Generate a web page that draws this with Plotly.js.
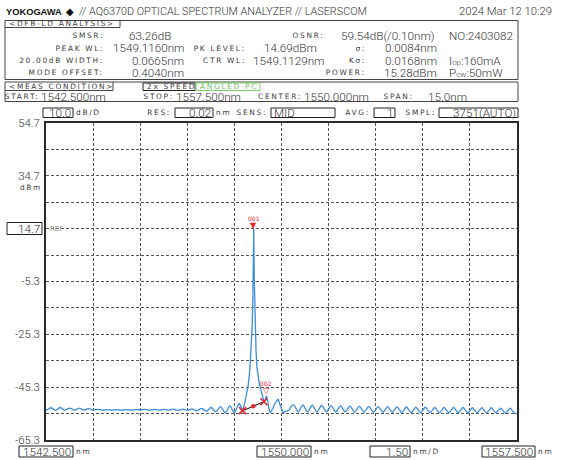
<!DOCTYPE html>
<html><head><meta charset="utf-8">
<script src="https://cdn.plot.ly/plotly-3.0.1.min.js"></script>
<style>html,body{margin:0;padding:0;background:#fff}#chart{width:565px;height:460px}</style>
</head><body><div id="chart"></div>
<script>
// ---------------- data ----------------
const wlRange = [1542.5, 1557.5];
const dbmRange = [-65.3, 54.7];
const noiseStep = 0.075;
const noiseLeftStart = 1542.5;
const noiseLeftDbm = [-54.0,-53.6,-53.1,-53.5,-54.1,-53.6,-53.0,-53.5,-54.0,-53.6,-53.2,-53.5,-54.0,-53.7,-53.2,-53.5,-54.0,-53.7,-53.4,-53.6,-54.0,-53.8,
 -53.7,-53.8,-54.0,-53.9,-53.8,-53.9,-54.0,-53.9,-53.8,-53.9,-54.0,-53.9,-53.8,-53.9,-54.0,-53.9,-53.8,-53.8,-53.9,-53.8,-53.7,-53.8,-54.0,-53.9,-53.7,-53.8,-54.0,-53.9,-53.7,-53.8,-54.0,-53.8,-53.6,-53.8,-54.1,-53.9,-53.6,-53.8,-54.1,-53.8,-53.5,-53.8,-54.2,
 -53.8,-53.3,-53.8,-54.4,-53.8,-53.0,-53.7,-54.6,-53.8,-52.7,-53.6,-55.0,-53.9,-52.4,-53.6,-55.2];
const coreWl = [1548.5,1548.575,1548.65,1548.71,1548.76,1548.82,1548.88,1548.94,1548.99,1549.03,1549.06,1549.085,1549.10,1549.116,1549.13,1549.145,1549.165,1549.19,1549.22,1549.26,1549.30,1549.35,1549.40,1549.44,1549.48,1549.52,1549.56,1549.60,1549.645,1549.72,1549.80,1549.89,1549.97,1550.05,1550.155];
const coreDbm = [-55.2,-53.5,-51.4,-52.6,-54.2,-51.8,-48.5,-44.5,-39,-32,-24,-14,-3,14.69,-3,-14,-24,-32,-38,-42,-44.5,-46.5,-49,-50.8,-50.0,-48.57,-50.5,-53.5,-55.0,-53.5,-51.2,-49.8,-52.5,-54.9,-54.4];
const noiseRightStart = 1550.155;
const noiseRightDbm = [-54.4,-54.0,-52.6,-51.9,-53.2,-54.7,-53.3,-52.0,-53.3,-54.7,-53.4,-52.1,-53.4,-54.7,-53.4,-52.2,-53.4,-54.6,-53.5,-52.3,
 -53.5,-54.7,-53.5,-52.4,-53.5,-54.7,-53.6,-52.5,-53.6,-54.8,-53.6,-52.6,-53.6,-54.8,-53.7,-52.6,-53.7,-54.8,-53.7,-52.7,
 -53.7,-54.8,-53.8,-52.7,-53.8,-54.8,-53.8,-52.8,-53.8,-54.9,-53.9,-52.8,-53.9,-54.9,-53.9,-52.9,-53.9,-54.9,-53.9,-52.9,
 -53.9,-54.9,-54.0,-53.0,-54.0,-54.9,-54.0,-53.0,-54.0,-55.0,-54.0,-53.0,-54.0,-55.0,-54.0,-53.0,-54.0,-55.0,-54.1,-53.1,
 -54.1,-55.0,-54.1,-53.1,-54.1,-55.0,-54.1,-53.1,-54.1,-55.0,-54.1,-53.2,-54.2,-55.1,-54.2,-53.2,-54.3,-55.2,-55.3];
const peakWl = [1549.116], peakDbm = [14.69];
const sideWl = [1549.52], sideDbm = [-48.57];
const edgeWl = [1548.76, 1549.44], edgeDbm = [-54.2, -50.8];
const yTickVals = [54.7,44.7,34.7,24.7,14.7,4.7,-5.3,-15.3,-25.3,-35.3,-45.3,-55.3,-65.3];
const yTickText = ['54.7','','34.7','','','','-5.3','','-25.3','','-45.3','','-65.3'];
const refLevel = 14.7;

// ---------------- page geometry helpers ----------------
const W=565,H=460,ML=46,MR=48,MT=123,MB=20;
const PW=W-ML-MR, PH=H-MT-MB;
const px = x => (x-ML)/PW;
const py = y => (H-MB-y)/PH;
const VAL='Roboto', LBL='DejaVu Sans', TXT='#333', BLUE='#3b8de0', RED='#e8262b';
const VS=11.7;

const ann=[], shapes=[], spaced=new Set();
function V(x,y,text,a='left',size=VS,color=TXT,fam=VAL,weight=300){
  ann.push({xref:'paper',yref:'paper',x:px(x),y:py(y),text,showarrow:false,xanchor:a,yanchor:'middle',align:a,
    borderpad:0,font:{family:fam,size,color,weight}});
}
function L(x,y,text,a='left',color='#3a3a3a',size=7.4){
  spaced.add(ann.length);
  V(x,y,text,a,size,color,LBL,400);
}
function rect(x0,y0,x1,y1,color='#333',w=1){
  shapes.push({type:'rect',xref:'paper',yref:'paper',x0:px(x0),x1:px(x1),y0:py(y0),y1:py(y1),line:{color,width:w}});
}
function line(x0,y0,x1,y1,color='#333',w=1){
  shapes.push({type:'line',xref:'paper',yref:'paper',x0:px(x0),x1:px(x1),y0:py(y0),y1:py(y1),line:{color,width:w}});
}
function box(x0,y0,x1,y1,text,a='right',size=VS,color=TXT){
  rect(x0,y0,x1,y1,'#222',1);
  V(a==='right'?x1-1:x0+2,(y0+y1)/2+0.5,text,a,size,color);
}

// title row
V(5,12,'<b>YOKOGAWA</b>','left',9.3,'#111','Liberation Sans',700);
V(65,12,'◆','left',10,'#111',LBL,400);
V(78,12,'// AQ6370D OPTICAL SPECTRUM ANALYZER // LASERSCOM','left',10.8);
V(553,12,'2024 Mar 12 10:29','right',11.3);

// analysis box
rect(5,20.5,518,79.5,'#444',1);
line(5,27.5,120,27.5,'#444',1); line(120,20.5,120,27.5,'#444',1);
L(8,24,'&lt;DFB-LD ANALYSIS&gt;');
L(105,36,'SMSR:','right'); V(128,36,'63.26dB');
L(325,36,'OSNR:','right'); V(340,36,'59.54dB(/0.10nm)'); V(448,36,'NO:2403082');
L(105,48.5,'PEAK WL:','right'); V(185,48.5,'1549.1160nm','right');
L(247,48.5,'PK LEVEL:','right'); V(318,48.5,'14.69dBm','right');
L(367,48.5,'σ:','right'); V(438,48.5,'0.0084nm','right');
L(105,60.7,'20.00dB WIDTH:','right'); V(185,60.7,'0.0665nm','right');
L(247,60.7,'CTR WL:','right'); V(325,60.7,'1549.1129nm','right');
L(367,60.7,'Kσ:','right'); V(438,60.7,'0.0168nm','right');
V(448,60.7,'I<span style="font-size:8px">op</span>:160mA');
L(105,72.8,'MODE OFFSET:','right'); V(185,72.8,'0.4040nm','right');
L(367,72.8,'POWER:','right'); V(438,72.8,'15.28dBm','right');
V(448,72.8,'P<span style="font-size:8px">cw</span>:50mW');

// measurement condition box
rect(5,82,518,101.5,'#444',1);
line(5,90.5,113,90.5,'#444',1); line(113,82,113,90.5,'#444',1);
L(8,86.3,'&lt;MEAS CONDITION&gt;');
rect(143,83,195,90.5,'#222',1); L(146,86.8,'2x SPEED');
rect(196,83,260,90.5,'#7ccf6a',1); L(199,86.8,'ANGLED PC','left','#6cc35a');
L(40,96.5,'START:','right'); V(40,96.5,'1542.500nm');
L(175,96.5,'STOP:','right'); V(175,96.5,'1557.500nm');
L(303,96.5,'CENTER:','right'); V(303,96.5,'1550.000nm');
L(415,96.5,'SPAN:','right'); V(427,96.5,'15.0nm');

// settings row
box(43,108,73,117.5,'10.0'); L(75,113,'dB/D');
L(172,113,'RES:','right'); box(175,108,213,117.5,'0.02'); L(215,113,'nm');
L(268,113,'SENS:','right'); box(271,108,335,117.5,'MID','left');
L(371,113,'AVG:','right'); box(374,108,395,117.5,'1');
L(437,113,'SMPL:','right'); box(439,108,518,117.5,'3751(AUTO)');

// y-axis extras
L(43,187,'dBm','right');
box(7,222.5,42,234.5,'14.7');
ann.push({xref:'paper',yref:'y',x:px(48),y:refLevel,text:'REF',showarrow:false,xanchor:'left',yanchor:'middle',font:{family:LBL,size:7,color:'#888'}});

// bottom row
box(19,446,73,457,'1542.500'); L(75,451.5,'nm');
box(257,446,311,457,'1550.000'); L(313,451.5,'nm');
box(370,446,410,457,'1.50'); L(412,451.5,'nm/D');
box(482,446,535,457,'1557.500'); L(537,451.5,'nm');

// marker labels (data referenced)
ann.push({xref:'x',yref:'y',x:peakWl[0],y:peakDbm[0],text:'▼',showarrow:false,yanchor:'bottom',yshift:-3,font:{family:LBL,size:8,color:RED}});
ann.push({xref:'x',yref:'y',x:peakWl[0],y:peakDbm[0],text:'001',showarrow:false,yanchor:'bottom',yshift:5,font:{family:LBL,size:6,color:RED}});
ann.push({xref:'x',yref:'y',x:sideWl[0],y:sideDbm[0],text:'▽',showarrow:false,yanchor:'bottom',yshift:-1,font:{family:LBL,size:8,color:RED}});
ann.push({xref:'x',yref:'y',x:sideWl[0],y:sideDbm[0],text:'002',showarrow:false,yanchor:'bottom',yshift:7,font:{family:LBL,size:6,color:RED}});

const traceLine = {color:BLUE,width:1.3};
const data = [
  {type:'scatter',mode:'lines',x0:noiseLeftStart,dx:noiseStep,y:noiseLeftDbm,line:Object.assign({shape:'spline',smoothing:1},traceLine),hoverinfo:'skip'},
  {type:'scatter',mode:'lines',x:coreWl,y:coreDbm,line:traceLine,hoverinfo:'skip'},
  {type:'scatter',mode:'lines',x0:noiseRightStart,dx:noiseStep,y:noiseRightDbm,line:Object.assign({shape:'spline',smoothing:1},traceLine),hoverinfo:'skip'},
  {type:'scatter',mode:'lines',x:edgeWl,y:edgeDbm,line:{color:'#222',width:1.2},hoverinfo:'skip'},
  {type:'scatter',mode:'markers',x:edgeWl,y:edgeDbm,marker:{symbol:'x-thin',size:7,line:{color:RED,width:1.6}},hoverinfo:'skip'},
  {type:'scatter',mode:'markers',x:[(edgeWl[0]+edgeWl[1])/2],y:[(edgeDbm[0]+edgeDbm[1])/2],marker:{symbol:'circle',size:4.5,color:RED},hoverinfo:'skip'}
];

const grid = {showgrid:true,gridcolor:'#555',gridwidth:1,griddash:'3px,2px',zeroline:false,
  showline:true,mirror:true,linecolor:'#2a2a2a',linewidth:2,ticks:''};
const layout = {
  width:W,height:H,margin:{l:ML,r:MR,t:MT,b:MB,pad:0},
  paper_bgcolor:'#fff',plot_bgcolor:'#fff',showlegend:false,
  xaxis:Object.assign({range:wlRange,tickmode:'linear',tick0:wlRange[0],dtick:1.5,showticklabels:false},grid),
  yaxis:Object.assign({range:dbmRange,tickmode:'array',tickvals:yTickVals,ticktext:yTickText,
    tickfont:{family:VAL,size:11.3,color:TXT,weight:300},ticklabelstandoff:2},grid),
  annotations:ann,shapes:shapes
};
Plotly.newPlot('chart',data,layout,{staticPlot:true,displayModeBar:false}).then(()=>{
  document.querySelectorAll('#chart g.annotation').forEach(g=>{
    const i=+g.getAttribute('data-index');
    if(spaced.has(i)){const t=g.querySelector('text');if(t)t.style.letterSpacing='1.7px';}
  });
});
</script></body></html>
